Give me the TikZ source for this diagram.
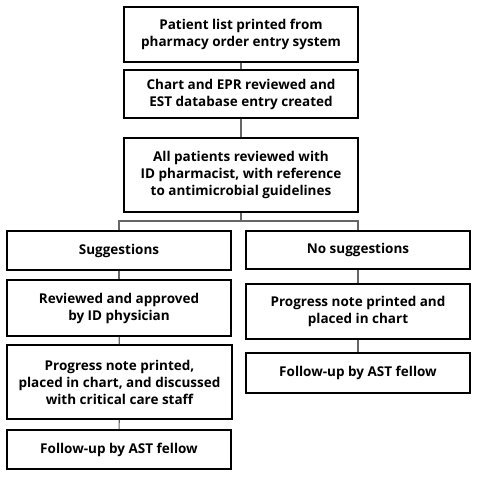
\documentclass[tikz,border=0pt]{standalone}
\usepackage{fontspec}
\setmainfont{Open Sans}
\begin{document}
\begin{tikzpicture}[x=1pt,y=-1pt,
  box/.style={draw=black,line width=1.6pt,fill=white,inner sep=0pt,align=center,
    font=\bfseries\fontsize{13.5}{17}\selectfont},
  conn/.style={draw=black!60,line width=1.1pt}]
\useasboundingbox (0,0) rectangle (478,477);
\newcommand\mybox[6]{\node[box,minimum width=#3-#1,minimum height=#4-#2] (#5) at ({(#1+#3)/2},{(#2+#4)/2}) {#6};}
\mybox{124}{7}{358}{62}{a}{Patient list printed from\\pharmacy order entry system}
\mybox{124}{70}{358}{118}{b}{Chart and EPR reviewed and\\EST database entry created}
\mybox{124}{138}{358}{212}{c}{All patients reviewed with\\ID pharmacist, with reference\\to antimicrobial guidelines}
\mybox{7}{231}{231}{270}{s}{Suggestions}
\mybox{7}{280}{231}{336}{s2}{Reviewed and approved\\by ID physician}
\mybox{7}{345}{232}{419}{s3}{Progress note printed,\\placed in chart, and discussed\\with critical care staff}
\mybox{7}{430}{231}{469}{s4}{Follow-up by AST fellow}
\mybox{246}{231}{470}{269}{n}{No suggestions}
\mybox{246}{284}{470}{339}{n2}{Progress note printed and\\placed in chart}
\mybox{246}{353}{470}{393}{n3}{Follow-up by AST fellow}
\coordinate (j) at (c.south |- 0,221);
\draw[conn] (a) -- (b);
\draw[conn] (b) -- (c);
\draw[conn] (c.south) -- (j);
\draw[conn] (s.north) |- (j) -| (n.north);
\draw[conn] (s) -- (s2);
\draw[conn] (s2) -- (s3);
\draw[conn] (s3) -- (s4);
\draw[conn] (n) -- (n2);
\draw[conn] (n2) -- (n3);
\end{tikzpicture}
\end{document}
